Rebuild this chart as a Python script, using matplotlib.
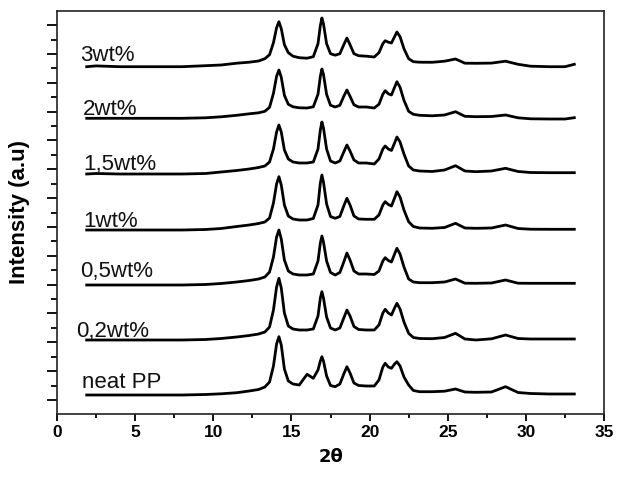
# -*- coding: utf-8 -*-
import matplotlib
matplotlib.use("Agg")
import matplotlib.pyplot as plt
from matplotlib.ticker import MultipleLocator, FixedLocator

# =============================================================================
# Data
# =============================================================================
two_theta = [
    1.9, 2.5, 4.0, 6.0, 8.0, 9.5, 10.5, 11.5, 12.3, 12.9,
    13.3, 13.6, 13.85, 14.05, 14.2, 14.35, 14.55, 14.8, 15.1, 15.5,
    16.0, 16.4, 16.7, 16.85, 16.95, 17.05, 17.25, 17.5, 17.8, 18.1,
    18.35, 18.55, 18.75, 19.0, 19.3, 19.8, 20.3, 20.6, 20.85, 21.0,
    21.2, 21.4, 21.6, 21.75, 21.95, 22.2, 22.5, 22.8, 23.2, 24.0,
    24.8, 25.5, 26.1, 26.8, 27.8, 28.7, 29.5, 30.3, 31.5, 32.5, 33.1,
]

wt3 = [
    0, 0.8, 0, 0, 0, 1, 1.7, 3.5, 4.5, 5.7,
    8, 12, 24, 39, 45, 38, 22, 14, 10.5, 9,
    8.5, 10, 23, 41, 48.7, 43, 23, 13, 11.5, 13,
    22, 28.7, 22, 13, 11, 10.5, 9.7, 14, 23, 26,
    24.5, 23.7, 30, 34.7, 30, 18, 8, 5, 4.5, 4.4,
    5.5, 7.7, 3.5, 3.4, 3.6, 5.5, 2.4, 0.5, 0, 0, 2.4,
]
wt2 = [
    0, 0, 0, 0, 0, 0.5, 1.5, 3, 4.5, 5.5,
    7, 11, 25, 42, 48.3, 41, 23, 14, 11.5, 10.5,
    10.3, 11.5, 24, 42, 49.3, 44, 24, 13, 11.3, 13,
    22, 28.3, 22, 13.5, 11.3, 11.3, 10.3, 14, 24, 27.6,
    24.5, 23.3, 31, 36.6, 31, 18, 7, 4, 3, 2.5,
    3.3, 6.6, 2, 1.6, 1.8, 3.3, 0.5, -0.5, -0.7, -0.7, 0.6,
]
wt1_5 = [
    0, 0.5, 0, 0, 0, 0.5, 2, 3.5, 5, 6.5,
    8, 12, 25, 42, 49, 42, 24, 15, 12, 11,
    11, 12, 25, 44, 52, 46, 25, 13, 11, 13,
    22, 29, 23, 14, 11, 11, 10, 15, 25, 28,
    25, 23.5, 31, 37, 32, 20, 8, 4, 3, 2.5,
    4, 8.3, 3, 2.3, 3, 5.7, 2.5, 1.5, 1.3, 1.3, 1.3,
]
wt1 = [
    0, 0, 0, 0, 0, 0.5, 1.5, 3.5, 5, 6.5,
    8, 12, 27, 46, 53.3, 45, 25, 14, 11, 10,
    10, 11.5, 25, 47, 55, 48, 26, 13.5, 11.7, 13.5,
    24, 31.7, 25, 14, 11, 10.7, 10.7, 15, 25, 28.3,
    25.5, 24, 32, 38.3, 33, 20, 8.3, 3.5, 2, 1.7,
    2.5, 6.7, 2, 1.7, 2, 5, 1.5, 0.8, 0.7, 0.7, 0.7,
]
wt0_5 = [
    0, 0, 0, 0, 0, 0.5, 1.5, 3, 4.5, 6,
    8, 13, 28, 48, 55, 46, 25, 14, 11, 10,
    10, 11, 24, 42, 49, 43, 24, 12.5, 10, 12.5,
    23, 32, 25, 14, 11, 11, 10.5, 14, 24, 27.3,
    24.5, 23, 31, 36.7, 31, 18, 6, 3, 2.3, 2.3,
    3, 6, 1.8, 1.7, 2, 5, 1.8, 1.7, 1.7, 1.7, 1.7,
]
wt0_2 = [
    0, 0, 0, 0, 0, 0.5, 1.5, 3, 4.5, 6,
    8, 13, 30, 53, 61.7, 52, 27, 14, 11, 10,
    10, 11, 24, 42, 48.3, 42, 23, 12, 10, 12,
    22, 30, 24, 13.5, 10.5, 10, 10, 15, 27, 30.7,
    27, 25, 32, 36.7, 31, 18, 6.7, 2.5, 1.5, 1.3,
    2.5, 6.7, 1, 0, 1.2, 5, 1.5, 1, 1, 1, 1,
]
neat_pp = [
    0, 0, 0, 0, 0, 0.5, 1.2, 2.3, 4, 5.5,
    8, 13, 29, 51, 58.3, 50, 26, 14, 11, 10,
    20.7, 16.7, 25, 34, 38.3, 34, 19, 9.5, 8.3, 11,
    21, 28.3, 22, 12, 9.5, 9, 9, 15, 28, 31.7,
    28, 26.7, 31, 33.3, 29, 18, 10, 4.5, 3.3, 3.3,
    3.8, 6, 3, 2.7, 3, 8.3, 2.5, 1.5, 1, 1, 1,
]

series = [wt3, wt2, wt1_5, wt1, wt0_5, wt0_2, neat_pp]
labels = ["3wt%", "2wt%", "1,5wt%", "1wt%", "0,5wt%", "0,2wt%", "neat PP"]
offsets = [347.3, 295.7, 240, 184, 129, 74, 19]
label_x = [1.47, 1.66, 1.66, 1.66, 1.47, 1.2, 1.6]
label_y = [353.3, 299, 244, 187.3, 137.3, 77.3, 26.3]

# =============================================================================
# Draw
# =============================================================================
fig = plt.figure(figsize=(6.2, 4.8), dpi=100)
ax = fig.add_axes([57 / 620, 1 - 414 / 480, (604 - 57) / 620, (414 - 11) / 480])

for ys, off in zip(series, offsets):
    ax.plot(two_theta, [off + v for v in ys], color="black", lw=2.0,
            solid_joinstyle="round")

for txt, tx, ty in zip(labels, label_x, label_y):
    ax.text(tx, ty, txt, ha="left", va="baseline", fontsize=16,
            family="Liberation Sans", color="#111111")

ax.set_xlim(0, 35)
ax.set_ylim(0, 403)

ax.xaxis.set_major_locator(MultipleLocator(5))
ax.xaxis.set_minor_locator(MultipleLocator(2.5))
ax.yaxis.set_major_locator(FixedLocator([14 + 28.84 * k for k in range(14)]))
ax.yaxis.set_minor_locator(FixedLocator([28.42 + 28.84 * k for k in range(13)]))
ax.set_yticklabels([])

ax.tick_params(axis="x", which="major", direction="out", length=5, width=1.3,
               labelsize=12.5, pad=3)
ax.tick_params(axis="x", which="minor", direction="out", length=3, width=1.3)
ax.tick_params(axis="y", which="major", direction="out", length=7, width=1.3)
ax.tick_params(axis="y", which="minor", direction="out", length=4, width=1.3)
for lab in ax.get_xticklabels():
    lab.set_fontweight("bold")
    lab.set_family("Liberation Sans")

for sp in ax.spines.values():
    sp.set_linewidth(1.2)
    sp.set_color("#222222")

ax.set_xlabel("2θ", fontsize=13, fontweight="bold", family="DejaVu Sans", labelpad=6)
ax.set_ylabel("Intensity (a.u)", fontsize=16, fontweight="bold",
              family="Liberation Sans", labelpad=9)

fig.savefig("out.png", dpi=100, facecolor="white")
plt.close(fig)
